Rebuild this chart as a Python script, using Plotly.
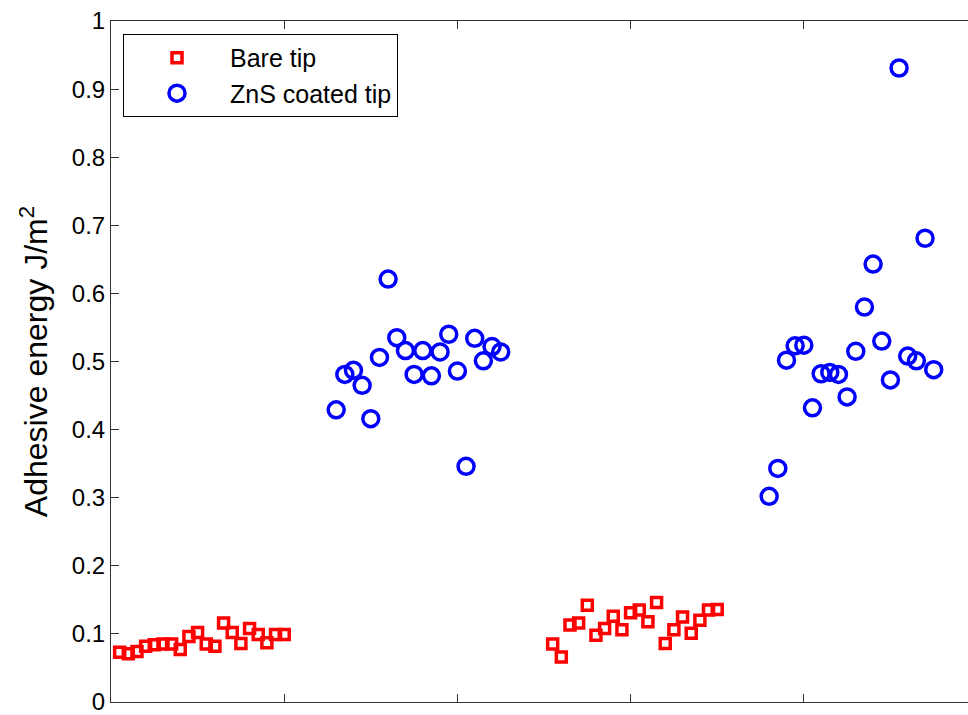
import plotly.graph_objects as go

# Data (x = sample index)
bare_x1 = list(range(1, 21))
bare_y1 = [0.073, 0.071, 0.074, 0.082, 0.084, 0.085, 0.085, 0.077, 0.096, 0.102,
           0.085, 0.082, 0.116, 0.102, 0.086, 0.108, 0.099, 0.087, 0.099, 0.099]
bare_x2 = list(range(51, 71))
bare_y2 = [0.085, 0.066, 0.113, 0.116, 0.142, 0.098, 0.108, 0.126, 0.106, 0.131,
           0.135, 0.118, 0.146, 0.086, 0.106, 0.125, 0.101, 0.120, 0.135, 0.136]
zns_x1 = list(range(26, 46))
zns_y1 = [0.429, 0.481, 0.487, 0.465, 0.416, 0.506, 0.621, 0.535, 0.516, 0.481,
          0.516, 0.479, 0.514, 0.540, 0.486, 0.346, 0.534, 0.501, 0.522, 0.514]
zns_x2 = list(range(76, 96))
zns_y2 = [0.302, 0.343, 0.502, 0.523, 0.524, 0.432, 0.482, 0.484, 0.481, 0.448,
          0.515, 0.580, 0.643, 0.530, 0.473, 0.931, 0.508, 0.501, 0.681, 0.488]

y_ticks = [0, 0.1, 0.2, 0.3, 0.4, 0.5, 0.6, 0.7, 0.8, 0.9, 1]
y_tick_text = ["0", "0.1", "0.2", "0.3", "0.4", "0.5", "0.6", "0.7", "0.8", "0.9", "1"]
x_ticks = [0, 20, 40, 60, 80, 100]

fig = go.Figure()
fig.add_trace(go.Scatter(
    x=bare_x1 + bare_x2, y=bare_y1 + bare_y2, mode="markers", name="Bare tip",
    marker=dict(symbol="square-open", size=10, color="#FF0000",
                line=dict(width=3.5, color="#FF0000"))))
fig.add_trace(go.Scatter(
    x=zns_x1 + zns_x2, y=zns_y1 + zns_y2, mode="markers", name="ZnS coated tip",
    marker=dict(symbol="circle-open", size=16, color="#0000FF",
                line=dict(width=3.5, color="#0000FF"))))

fig.update_layout(
    width=968, height=715,
    margin=dict(l=111, r=0, t=21, b=11),
    paper_bgcolor="white", plot_bgcolor="white",
    font=dict(family="Liberation Sans, Arial, sans-serif", size=24, color="black"),
    showlegend=True,
    legend=dict(x=0.014, y=0.981, xanchor="left", yanchor="top",
                bgcolor="white", bordercolor="black", borderwidth=1,
                font=dict(size=25), itemwidth=96, tracegroupgap=0),
    xaxis=dict(range=[0, 98.96], tickvals=x_ticks, showticklabels=False,
               ticks="inside", ticklen=8, tickcolor="#333", showline=True,
               linecolor="#333", linewidth=1, mirror="ticks", showgrid=False,
               zeroline=False),
    yaxis=dict(range=[0, 1], tickvals=y_ticks, ticktext=y_tick_text,
               ticks="inside", ticklen=8, tickcolor="#333", showline=True,
               linecolor="#333", linewidth=1, mirror=False, showgrid=False,
               zeroline=False, tickfont=dict(size=24),
               ticklabeloverflow="allow",
               title=dict(text="Adhesive energy J/m<sup>2</sup>",
                          font=dict(size=32), standoff=14)),
)

fig.write_html("out.html")
